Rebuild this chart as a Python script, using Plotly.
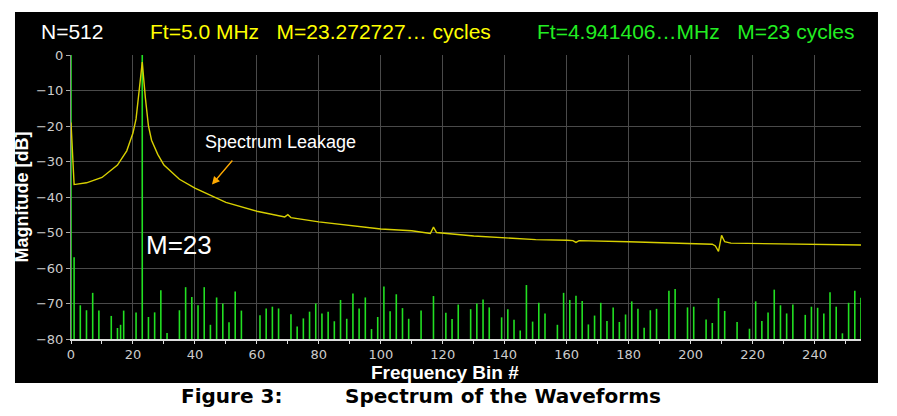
import plotly.graph_objects as go

green_bins = [0,1,3,5,7,9,13,15,16,17,21,23,25,27,29,31,35,37,39,41,43,45,47,49,51,53,55,61,63,65,67,71,73,75,77,79,81,83,85,87,89,91,93,95,97,99,101,103,105,107,109,113,117,121,123,125,129,131,133,135,139,141,143,145,147,149,151,153,157,159,161,163,165,167,169,171,173,175,177,179,181,183,185,187,189,193,195,199,201,205,207,209,211,215,219,221,223,225,227,229,231,233,237,239,241,243,245,247,249,251,253,255]
green_db = [0,-57,-70.5,-71.9,-67,-72,-73.5,-76.9,-76,-72,-72.5,0,-73.8,-72.5,-66.3,-78.3,-71.9,-65.4,-68.2,-70.5,-65.4,-76,-68.3,-70,-75.3,-66.6,-72,-73.3,-71.4,-70.9,-71.4,-73,-76.5,-74.2,-72.3,-70,-72.8,-72.3,-75,-69,-74.3,-67.2,-71.4,-68.3,-77.2,-73.8,-65.2,-72.2,-67.4,-71.3,-74.3,-72,-67.9,-72.6,-74.4,-70.3,-71.6,-70,-68.9,-71.1,-73.9,-71.6,-74.6,-77.6,-64.8,-75.1,-69.8,-72.8,-76,-67,-69,-67.8,-69.3,-75.9,-73.4,-69.8,-74.9,-71.1,-75.2,-73.1,-69.4,-71.5,-76.8,-71.9,-71.5,-66.4,-65.9,-71.1,-70.9,-74.5,-75.5,-68.5,-72.1,-75.2,-77.1,-69.4,-74.9,-72.5,-66.1,-70.5,-72.8,-70.3,-73.2,-70.9,-71.2,-72.8,-66.8,-70.9,-78.4,-69.8,-66.4,-68.4]

yellow_bins = [0,1,5,10,15,18,20,21,22,23,24,25,26,28,30,35,40,45,50,60,69,70,71,80,90,100,110,115,116,117,118,130,140,150,160,162,163,164,180,200,207,208,209,210,211,213,230,255]
yellow_db = [-19,-36.5,-36,-34.5,-31,-27,-22,-18,-10,-2,-12,-20,-24,-28,-31,-35,-37.5,-39.5,-41.5,-44,-45.6,-45,-45.8,-47,-48,-49,-49.5,-50,-50.3,-48.5,-50,-51,-51.5,-52,-52.2,-52.3,-52.8,-52.3,-52.6,-53,-53.3,-53.8,-55.3,-50.8,-52.6,-53,-53.2,-53.5]

x_ticks = list(range(0, 241, 20))
y_ticks = list(range(0, -81, -10))

gx, gy = [], []
for b, v in zip(green_bins, green_db):
    gx += [b, b, None]
    gy += [-80, v, None]

fig = go.Figure()
fig.add_trace(go.Scatter(x=gx, y=gy, mode="lines", line=dict(color="#22e022", width=1.6), hoverinfo="skip"))
fig.add_trace(go.Scatter(x=yellow_bins, y=yellow_db, mode="lines", line=dict(color="#d8d000", width=1.4), hoverinfo="skip"))

fig.add_shape(type="rect", xref="paper", yref="paper", x0=-0.0709, x1=1.0215, y0=-0.155, y1=1.151,
              fillcolor="black", line=dict(width=0), layer="below")

txt = dict(family="Liberation Sans, Arial", size=21)
fig.add_annotation(xref="paper", yref="paper", x=-0.04, y=1.081, yanchor="middle", text="N=512", showarrow=False, xanchor="left",
                   font=dict(color="white", **txt))
fig.add_annotation(xref="paper", yref="paper", x=0.098, y=1.081, yanchor="middle", text="Ft=5.0 MHz   M=23.272727… cycles", showarrow=False,
                   xanchor="left", font=dict(color="#ffff00", **txt))
fig.add_annotation(xref="paper", yref="paper", x=0.587, y=1.081, yanchor="middle", text="Ft=4.941406…MHz   M=23 cycles", showarrow=False,
                   xanchor="left", font=dict(color="#22ee22", **txt))
fig.add_annotation(x=23.5, y=-53.5, text="M=23", showarrow=False, xanchor="left",
                   font=dict(color="white", family="Liberation Sans, Arial", size=26))
fig.add_annotation(x=42.5, y=-24.5, text="Spectrum Leakage", showarrow=False, xanchor="left",
                   font=dict(color="white", family="Liberation Sans, Arial", size=18))
fig.add_annotation(x=45.5, y=-36.5, ax=52.5, ay=-29.3, axref="x", ayref="y", text="", showarrow=True,
                   arrowhead=2, arrowsize=1.2, arrowwidth=1.3, arrowcolor="#ffaa00")
fig.add_annotation(xref="paper", yref="paper", x=0.473, y=-0.118, yanchor="middle", text="<b>Frequency Bin #</b>",
                   showarrow=False, font=dict(color="white", size=19, family="Liberation Sans, Arial"))
fig.add_annotation(xref="paper", yref="paper", x=0.443, y=-0.2, yanchor="middle",
                   text="Figure 3:&nbsp;&nbsp;&nbsp;&nbsp;&nbsp;&nbsp;&nbsp;&nbsp;&nbsp;Spectrum of the Waveforms",
                   showarrow=False, font=dict(color="black", family="DejaVu Sans", size=20, weight="bold"))

fig.update_layout(
    width=897, height=416, paper_bgcolor="white", plot_bgcolor="#0b0b0b",
    margin=dict(l=63, r=44, t=47, b=85, autoexpand=False), showlegend=False,
    xaxis=dict(range=[0, 255], tickvals=x_ticks, showgrid=True, gridcolor="#4a4a4a", gridwidth=1,
               automargin=False,
               zeroline=False, showline=True, linecolor="#dddddd", linewidth=1.5,
               tickfont=dict(color="#cccccc", size=13, family="DejaVu Sans"),
               ticks="outside", ticklen=3, tickcolor="#ddd",
               minor=dict(dtick=10, ticks="outside", ticklen=3, tickcolor="#ddd", showgrid=False)),
    yaxis=dict(range=[-80, 0], tickvals=y_ticks, showgrid=True, gridcolor="#4a4a4a", gridwidth=1,
               automargin=False,
               zeroline=False, showline=True, linecolor="#888888", linewidth=1,
               tickfont=dict(color="#cccccc", size=13, family="DejaVu Sans"),
               ticks="outside", ticklen=4, tickcolor="#aaa",
               title=dict(text="<b>Magnitude [dB]</b>", standoff=2,
                          font=dict(color="white", size=18, family="Liberation Sans, Arial"))),
)
fig.write_html("out.html")
